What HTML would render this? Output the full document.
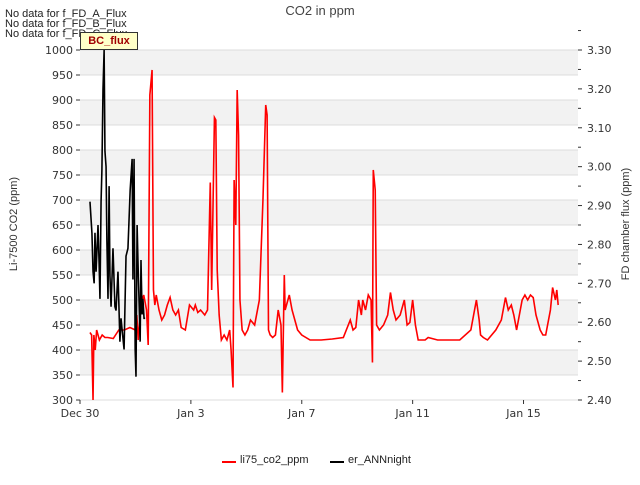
<!DOCTYPE html>
<html><head><meta charset="utf-8"><style>
body{margin:0;background:#fff;font-family:"Liberation Sans","DejaVu Sans",sans-serif}
svg text{font-family:"DejaVu Sans","Liberation Sans",sans-serif}
</style></head><body>
<svg id="c" width="640" height="480" xmlns="http://www.w3.org/2000/svg"></svg>
<script>
const xTickLabels=["Dec 30","Jan 3","Jan 7","Jan 11","Jan 15"];
const xTickDays=[0,4,8,12,16];
const leftTicks=[300,350,400,450,500,550,600,650,700,750,800,850,900,950,1000];
const rightTicks=[2.4,2.5,2.6,2.7,2.8,2.9,3.0,3.1,3.2,3.3];
const coDays=[0.36,0.42,0.47,0.5,0.55,0.6,0.7,0.8,0.9,1.0,1.2,1.4,1.6,1.8,2.0,2.05,2.1,2.15,2.2,2.3,2.4,2.46,2.52,2.6,2.65,2.7,2.75,2.85,2.95,3.05,3.15,3.25,3.35,3.45,3.55,3.65,3.8,3.95,4.1,4.16,4.25,4.35,4.5,4.6,4.7,4.75,4.85,4.9,4.95,5.02,5.1,5.2,5.3,5.4,5.45,5.52,5.56,5.62,5.67,5.72,5.77,5.85,5.95,6.05,6.15,6.3,6.47,6.6,6.7,6.75,6.8,6.86,6.95,7.05,7.15,7.25,7.3,7.37,7.4,7.45,7.55,7.65,7.75,7.85,8.0,8.3,8.7,9.1,9.5,9.75,9.85,9.95,10.05,10.15,10.2,10.3,10.4,10.5,10.55,10.58,10.65,10.7,10.8,10.95,11.1,11.2,11.3,11.4,11.55,11.7,11.8,11.9,12.0,12.1,12.2,12.3,12.45,12.56,12.9,13.3,13.7,14.1,14.3,14.4,14.45,14.55,14.7,15.0,15.2,15.35,15.45,15.56,15.65,15.75,15.85,15.95,16.05,16.15,16.25,16.35,16.45,16.6,16.7,16.8,16.97,17.05,17.15,17.2,17.25,17.3,17.4];
const coVals=[435,430,300,430,400,440,420,430,425,425,423,440,440,445,440,470,420,455,490,510,480,410,910,960,520,490,510,480,460,470,490,505,480,470,480,445,440,490,480,490,475,480,470,480,735,520,865,860,560,470,420,430,420,440,400,325,740,650,920,830,500,440,430,440,460,450,500,700,890,870,440,430,425,430,480,450,315,550,480,490,510,480,460,440,430,420,420,422,425,460,440,445,500,470,500,480,510,500,375,760,720,450,440,450,470,515,480,460,470,500,450,455,500,450,420,420,420,425,420,420,420,440,500,460,430,425,420,440,460,505,480,490,470,440,470,500,510,500,510,505,470,440,430,430,480,525,500,520,490];
const annDays=[0.36,0.43,0.47,0.51,0.54,0.58,0.65,0.69,0.72,0.76,0.79,0.83,0.87,0.9,0.94,0.97,1.01,1.05,1.08,1.12,1.19,1.26,1.3,1.37,1.44,1.48,1.52,1.59,1.66,1.73,1.81,1.88,1.91,1.95,1.99,2.02,2.06,2.09,2.17,2.2,2.24,2.27,2.31,2.35];
const annVals=[2.91,2.83,2.73,2.70,2.83,2.73,2.85,2.75,2.66,2.91,2.99,3.20,3.30,3.04,3.00,2.81,2.66,2.95,2.72,2.64,2.79,2.64,2.63,2.73,2.55,2.61,2.58,2.53,2.77,2.79,2.94,3.02,2.71,3.02,2.53,2.46,2.85,2.76,2.55,2.76,2.62,2.66,2.61,2.61];

const L=80,R=578,T=50,B=400;
const x=d=>L+d*27.72;
const yl=v=>B-(v-300)/700*(B-T);
const yr=v=>B-(v-2.4)/0.9*(B-T);
const svg=document.getElementById('c');
const NS="http://www.w3.org/2000/svg";
function mk(tag,attrs,parent){const e=document.createElementNS(NS,tag);for(const k in attrs)e.setAttribute(k,attrs[k]);(parent||svg).appendChild(e);return e;}
// bands
for(let i=0;i<leftTicks.length-1;i++){
  const v=leftTicks[i];
  if(i%2==1){const r=mk('rect',{x:L,y:yl(v+50),width:R-L,height:yl(v)-yl(v+50),fill:'#f2f2f2'});
  
  }
}
leftTicks.forEach(v=>{const g=mk('line',{x1:L,x2:R,y1:yl(v),y2:yl(v),stroke:'#dcdcdc','stroke-width':1});


const t=mk('text',{x:L-7,y:yl(v)+4,'text-anchor':'end','font-size':11,fill:'#333'});t.textContent=v;


mk('line',{x1:L-4,x2:L,y1:yl(v),y2:yl(v),stroke:'#333'});});
rightTicks.forEach(v=>{const t=mk('text',{x:R+9,y:yr(v)+4,'font-size':11,fill:'#333'});t.textContent=v.toFixed(2);


mk('line',{x1:R,x2:R+4,y1:yr(v),y2:yr(v),stroke:'#333'});
mk('line',{x1:R,x2:R+3,y1:yr(v+0.05),y2:yr(v+0.05),stroke:'#333'});});
xTickDays.forEach((d,i)=>{mk('line',{x1:x(d),x2:x(d),y1:B,y2:B+4,stroke:'#333'});
const t=mk('text',{x:x(d),y:B+17,'text-anchor':'middle','font-size':11,fill:'#333'});t.textContent=xTickLabels[i];

});
const pc=mk('polyline',{points:coDays.map((d,i)=>x(d)+','+yl(coVals[i])).join(' '),fill:'none',stroke:'#ff0000','stroke-width':1.6});


const pa=mk('polyline',{points:annDays.map((d,i)=>x(d)+','+yr(annVals[i])).join(' '),fill:'none',stroke:'#000','stroke-width':1.6});


</script>
<div style="position:absolute;left:0;top:0;width:640px;height:480px;pointer-events:none">
<div style="position:absolute;left:0;width:640px;top:3px;text-align:center;font-size:13px;color:#444">CO2 in ppm</div>
<div style="position:absolute;left:5px;top:8px;font-size:11px;color:#222">No data for f_FD_A_Flux</div>
<div style="position:absolute;left:5px;top:18px;font-size:11px;color:#222">No data for f_FD_B_Flux</div>
<div style="position:absolute;left:5px;top:28px;font-size:11px;color:#222">No data for f_FD_C_Flux</div>
<div style="position:absolute;left:80px;top:32px;width:56px;height:16px;background:#ffffc8;border:1px solid #333;font-size:11px;font-weight:bold;color:#a00000;text-align:center;line-height:16px">BC_flux</div>
<div style="position:absolute;left:-36px;top:218px;width:100px;text-align:center;font-size:11px;color:#333;transform:rotate(-90deg)">Li-7500 CO2 (ppm)</div>
<div style="position:absolute;left:566px;top:218px;width:120px;text-align:center;font-size:11px;color:#333;transform:rotate(-90deg)">FD chamber flux (ppm)</div>
<div style="position:absolute;top:454px;left:0;width:640px;font-size:11px;color:#222">
<span style="position:absolute;left:222px;top:7px;width:14px;height:2px;background:#f00"></span><span style="position:absolute;left:240px;top:0">li75_co2_ppm</span>
<span style="position:absolute;left:330px;top:7px;width:14px;height:2px;background:#000"></span><span style="position:absolute;left:348px;top:0">er_ANNnight</span>
</div></div>
</body></html>
